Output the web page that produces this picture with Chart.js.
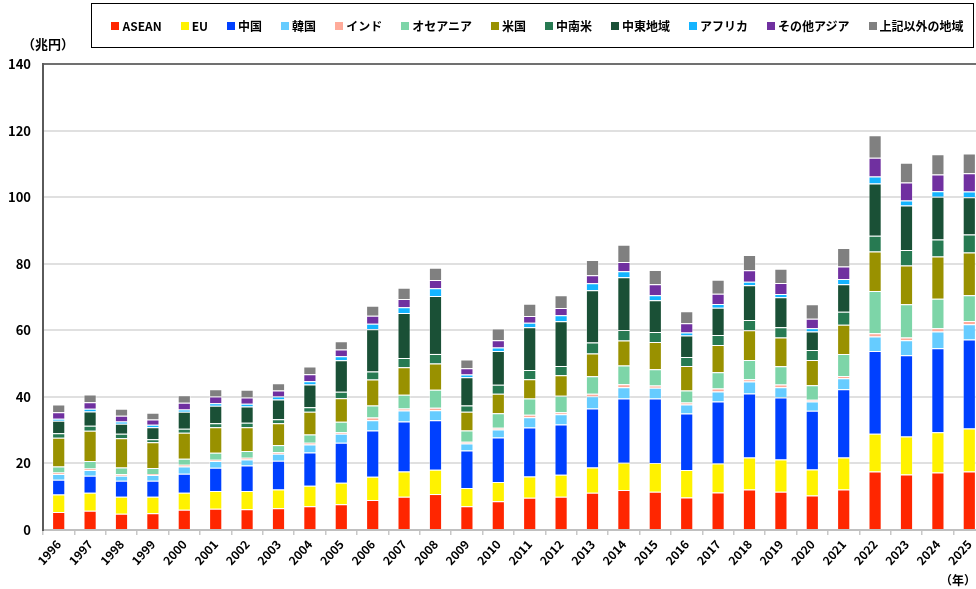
<!DOCTYPE html>
<html>
<head>
<meta charset="utf-8">
<script src="https://cdn.jsdelivr.net/npm/chart.js@4.4.1/dist/chart.umd.min.js"></script>
<style>
  html, body { margin: 0; padding: 0; background: #fff; }
  #wrap { position: relative; width: 976px; height: 589px; overflow: hidden; font-family: "Noto Sans CJK JP", "Noto Sans", sans-serif; }
  #chart { position: absolute; left: 0; top: 0; }
  #legend {
    position: absolute; left: 91px; top: 3px; width: 883px; height: 45px;
    border: 1px solid #000; box-sizing: border-box;
    display: flex; align-items: center; justify-content: center; gap: 19px;
    font-size: 12px; font-weight: bold; color: #000; padding-left: 10px;
  }
  #legend .item { display: flex; align-items: center; white-space: nowrap; }
  #legend .box { width: 8px; height: 8px; margin-right: 3px; }
  .note { position: absolute; font-weight: bold; color: #000; }
</style>
</head>
<body>
<div id="wrap">
  <canvas id="chart" width="1000" height="589"></canvas>
  <div id="legend"></div>
  <div class="note" style="left:22px; top:34px; font-size:13px;">（兆円）</div>
  <div class="note" style="left:940px; top:571px; font-size:12px;">（年）</div>
</div>
<script>
const years = ['1996','1997','1998','1999','2000','2001','2002','2003','2004','2005',
  '2006','2007','2008','2009','2010','2011','2012','2013','2014','2015',
  '2016','2017','2018','2019','2020','2021','2022','2023','2024','2025'];

const asean = [5.4,5.8,4.9,5.0,6.1,6.4,6.2,6.5,7.1,7.7,9.0,10.0,10.8,7.1,8.6,9.7,10.0,11.2,12.0,11.5,9.8,11.3,12.2,11.5,10.4,12.2,17.6,16.7,17.3,17.6];
const eu = [5.3,5.4,5.1,5.0,5.1,5.3,5.5,5.7,6.2,6.5,7.0,7.6,7.3,5.5,5.8,6.4,6.6,7.6,8.2,8.6,8.2,8.7,9.6,9.7,7.8,9.6,11.3,11.4,12.1,12.9];
const china = [4.4,5.1,4.8,4.8,5.7,7.0,7.7,8.6,10.0,12.0,13.9,15.0,14.9,11.3,13.4,14.7,15.1,17.7,19.3,19.4,17.0,18.6,19.2,18.6,17.6,20.5,24.9,24.4,25.2,26.7];
const korea = [1.7,1.7,1.5,1.7,2.2,2.0,1.8,2.1,2.4,2.7,3.1,3.3,3.0,2.1,2.4,3.1,3.1,3.7,3.4,3.2,2.7,3.0,3.6,3.1,2.8,3.3,4.3,4.5,5.0,4.6];
const india = [0.5,0.5,0.5,0.3,0.5,0.4,0.5,0.5,0.5,0.5,0.8,0.6,0.7,0.5,0.5,0.7,0.6,0.7,0.9,0.7,0.6,0.9,0.7,0.8,0.5,0.7,1.0,0.8,1.0,1.0];
const oceania = [1.8,2.2,2.0,1.8,1.8,2.1,2.0,2.1,2.5,3.1,3.6,4.1,5.4,3.4,4.4,4.9,4.9,5.3,5.6,4.9,3.6,4.9,5.8,5.5,4.4,6.6,12.7,10.0,8.9,7.7];
const usa = [8.6,9.1,8.8,7.8,7.8,7.7,7.2,6.6,6.8,7.1,7.8,8.3,7.9,5.6,5.8,5.8,6.2,6.8,7.5,8.2,7.4,8.2,8.9,8.6,7.6,8.8,11.9,11.7,12.7,12.9];
const latam = [1.4,1.5,1.3,0.9,1.2,1.2,1.3,1.2,1.4,1.9,2.4,2.8,2.9,1.9,2.7,2.8,2.8,3.3,3.2,3.0,2.7,3.0,3.1,3.1,3.0,3.9,4.7,4.6,5.1,5.4];
const middleEast = [3.7,4.3,3.0,3.6,5.1,5.2,4.9,5.9,6.8,9.5,12.7,13.5,17.4,8.5,10.2,12.8,13.4,15.7,15.8,9.5,6.4,8.2,10.4,9.0,5.5,8.2,15.7,13.4,12.8,11.2];
const africa = [0.6,0.8,0.7,0.7,0.7,0.8,0.8,0.9,1.0,1.2,1.7,1.7,2.3,0.8,1.0,1.4,1.8,2.1,1.8,1.5,0.9,1.1,1.1,1.0,1.0,1.6,2.1,1.5,1.7,1.7];
const otherAsia = [2.0,2.0,1.7,1.6,2.0,2.0,1.9,1.8,2.1,2.0,2.4,2.5,2.5,1.9,2.2,2.0,2.2,2.4,2.8,3.3,2.8,3.1,3.4,3.3,2.9,3.8,5.6,5.4,5.0,5.5];
const others = [2.3,2.3,2.1,2.0,2.3,2.2,2.3,2.2,2.3,2.5,3.0,3.4,3.7,2.6,3.5,3.7,3.8,4.6,5.2,4.3,3.6,4.2,4.6,4.3,4.3,5.5,6.8,5.9,6.1,5.9];

const yTicks = [0, 20, 40, 60, 80, 100, 120, 140];

const series = [
  { label: 'ASEAN', data: asean, color: '#ff2600' },
  { label: 'EU', data: eu, color: '#fff200' },
  { label: '中国', data: china, color: '#0040ff' },
  { label: '韓国', data: korea, color: '#66ccff' },
  { label: 'インド', data: india, color: '#ffab9a' },
  { label: 'オセアニア', data: oceania, color: '#7dd5a8' },
  { label: '米国', data: usa, color: '#999100' },
  { label: '中南米', data: latam, color: '#277a52' },
  { label: '中東地域', data: middleEast, color: '#1a5036' },
  { label: 'アフリカ', data: africa, color: '#14b4ff' },
  { label: 'その他アジア', data: otherAsia, color: '#7030a0' },
  { label: '上記以外の地域', data: others, color: '#808080' }
];

// legend drawn as html so it can have the framed box
const legend = document.getElementById('legend');
series.forEach(s => {
  const item = document.createElement('div');
  item.className = 'item';
  item.innerHTML = `<span class="box" style="background:${s.color}"></span><span>${s.label}</span>`;
  legend.appendChild(item);
});

const font = '"Noto Sans CJK JP", "Noto Sans", sans-serif';

new Chart(document.getElementById('chart').getContext('2d'), {
  type: 'bar',
  data: {
    labels: years,
    datasets: series.map(s => ({
      label: s.label,
      data: s.data,
      backgroundColor: s.color,
      borderColor: 'rgba(255,255,255,0.45)',
      borderWidth: 1,
      categoryPercentage: 1,
      barPercentage: 0.42
    }))
  },
  options: {
    responsive: false,
    animation: false,
    layout: { padding: { top: 64, right: 15, left: 0, bottom: 0 } },
    plugins: { legend: { display: false }, tooltip: { enabled: false } },
    scales: {
      x: {
        stacked: true,
        afterFit: s => { s.height = 59; },
        grid: { display: true, drawOnChartArea: false, drawTicks: true, tickLength: 5, offset: true, color: '#c8c8c8', lineWidth: 1.5 },
        border: { color: '#c0c0c0', width: 2 },
        ticks: {
          color: '#000', padding: 2, maxRotation: 48, minRotation: 48, autoSkip: false,
          font: { family: font, size: 12, weight: 'bold' }
        }
      },
      y: {
        stacked: true,
        min: 0, max: 140,
        afterFit: s => { s.width = 43; },
        afterBuildTicks: s => { s.ticks = yTicks.map(v => ({ value: v })); },
        grid: {
          drawTicks: false,
          color: c => c.tick && c.tick.value === 140 ? '#707070' : '#e0e0e0',
          lineWidth: 2
        },
        border: { color: '#5a5a5a', width: 2 },
        ticks: {
          color: '#000', padding: 12,
          font: { family: font, size: 13, weight: 'bold' }
        }
      }
    }
  }
});
</script>
</body>
</html>
